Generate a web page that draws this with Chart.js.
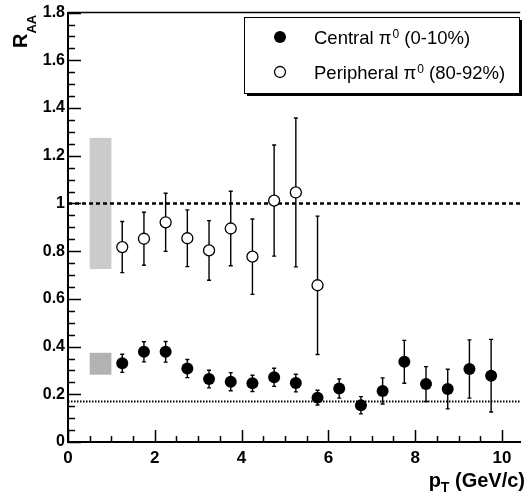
<!DOCTYPE html>
<html>
<head>
<meta charset="utf-8">
<script src="https://cdn.jsdelivr.net/npm/chart.js@4/dist/chart.umd.min.js"></script>
<style>
  html, body { margin: 0; padding: 0; background: #fff; }
  #wrap { position: relative; width: 527px; height: 498px; }
</style>
</head>
<body>
<div id="wrap"><canvas id="raa"></canvas></div>
<script>
// ─── DATA ─────────────────────────────────────────────────────
const ptCentral     = [1.25, 1.75, 2.25, 2.75, 3.25, 3.75, 4.25, 4.75, 5.25, 5.75, 6.25, 6.75, 7.25, 7.75, 8.25, 8.75, 9.25, 9.75];
const raaCentral    = [0.330, 0.378, 0.378, 0.308, 0.264, 0.253, 0.246, 0.271, 0.247, 0.186, 0.224, 0.154, 0.214, 0.336, 0.243, 0.222, 0.306, 0.278];
const errCentral    = [0.038, 0.042, 0.043, 0.038, 0.037, 0.038, 0.034, 0.038, 0.037, 0.031, 0.040, 0.036, 0.055, 0.090, 0.073, 0.083, 0.122, 0.152];

const ptPeriph      = [1.25, 1.75, 2.25, 2.75, 3.25, 3.75, 4.25, 4.75, 5.25, 5.75];
const raaPeriph     = [0.817, 0.852, 0.921, 0.854, 0.803, 0.895, 0.777, 1.012, 1.046, 0.657];
const errPeriph     = [0.107, 0.111, 0.122, 0.119, 0.125, 0.156, 0.158, 0.233, 0.312, 0.290];

// normalization uncertainty boxes: [centre, half height]
const normPeriph    = [1.0, 0.275];
const normCentral   = [0.328, 0.046];
const normBoxX      = [0.5, 1.0];

const unityLevel    = 1.0;
const ncollLevel    = 0.17;

const xTicks        = [0, 2, 4, 6, 8, 10];
const yTicks        = [0, 0.2, 0.4, 0.6, 0.8, 1, 1.2, 1.4, 1.6, 1.8];

const legendLabels  = ['Central \u03c0', 'Peripheral \u03c0'];
const legendTails   = [' (0-10%)', ' (80-92%)'];

// ─── PLUGINS ─────────────────────────────────────────────────
const FONT = '"Liberation Sans", Arial, Helvetica, sans-serif';

function drawErrors(chart, xs, ys, es) {
    const { ctx, scales: { x, y } } = chart;
    ctx.save();
    ctx.strokeStyle = '#000';
    ctx.lineWidth = 1.4;
    xs.forEach((v, i) => {
        const px = x.getPixelForValue(v);
        const top = y.getPixelForValue(ys[i] + es[i]);
        const bot = y.getPixelForValue(ys[i] - es[i]);
        ctx.beginPath();
        ctx.moveTo(px, top); ctx.lineTo(px, bot);
        ctx.moveTo(px - 2, top); ctx.lineTo(px + 2, top);
        ctx.moveTo(px - 2, bot); ctx.lineTo(px + 2, bot);
        ctx.stroke();
    });
    ctx.restore();
}

function drawBox(chart, nb, color) {
    const { ctx, scales: { x, y } } = chart;
    const x0 = x.getPixelForValue(normBoxX[0]), x1 = x.getPixelForValue(normBoxX[1]);
    const y0 = y.getPixelForValue(nb[0] + nb[1]), y1 = y.getPixelForValue(nb[0] - nb[1]);
    ctx.fillStyle = color;
    ctx.fillRect(x0, y0, x1 - x0, y1 - y0);
}

const decorPlugin = {
    id: 'decor',
    beforeDatasetsDraw(chart) {
        drawBox(chart, normPeriph, '#cbcbcb');
        drawBox(chart, normCentral, '#b2b2b2');
        drawErrors(chart, ptPeriph, raaPeriph, errPeriph);
        drawErrors(chart, ptCentral, raaCentral, errCentral);
    },
    afterDraw(chart) {
        const { ctx, chartArea: a, scales: { x, y } } = chart;
        ctx.save();
        ctx.strokeStyle = '#000';

        // frame top
        ctx.lineWidth = 1.5;
        ctx.beginPath();
        ctx.moveTo(a.left, a.top); ctx.lineTo(a.right, a.top);
        ctx.stroke();

        // inward ticks
        ctx.lineWidth = 1.5;
        ctx.beginPath();
        for (let k = 0; k <= 36; k++) {
            const v = k * 0.05;
            const py = Math.round(y.getPixelForValue(v)) + 0.5;
            const len = k % 4 === 0 ? 13 : 7;
            ctx.moveTo(a.left, py); ctx.lineTo(a.left + len, py);
        }
        for (let k = 0; k * 0.5 <= x.max; k++) {
            const px = Math.round(x.getPixelForValue(k * 0.5)) + 0.5;
            const len = k % 4 === 0 ? 12 : 6;
            ctx.moveTo(px, a.bottom); ctx.lineTo(px, a.bottom - len);
        }
        ctx.stroke();

        // axis titles
        ctx.fillStyle = '#000';
        ctx.textBaseline = 'alphabetic';
        ctx.textAlign = 'left';
        ctx.font = 'bold 20px ' + FONT;
        const tail = ' (GeV/c)';
        const wTail = ctx.measureText(tail).width;
        const wP = ctx.measureText('p').width;
        ctx.font = 'bold 14px ' + FONT;
        const wT = ctx.measureText('T').width;
        let xr = 525 - wTail;
        ctx.font = 'bold 20px ' + FONT;
        ctx.fillText(tail, xr, 487);
        ctx.font = 'bold 14px ' + FONT;
        ctx.fillText('T', xr - wT, 492);
        ctx.font = 'bold 20px ' + FONT;
        ctx.fillText('p', xr - wT - wP, 487);

        ctx.save();
        ctx.translate(27, 48);
        ctx.rotate(-Math.PI / 2);
        ctx.font = 'bold 20px ' + FONT;
        ctx.fillText('R', 0, 0);
        const wR = ctx.measureText('R').width;
        ctx.font = 'bold 13px ' + FONT;
        ctx.fillText('AA', wR, 9);
        ctx.restore();

        // legend
        const lx = 244, ly = 17, lw = 275, lh = 76;
        ctx.fillStyle = '#000';
        ctx.fillRect(lx + 3, ly + 3, lw, lh);
        ctx.fillStyle = '#fff';
        ctx.fillRect(lx, ly, lw, lh);
        ctx.lineWidth = 1;
        ctx.strokeRect(lx + 0.5, ly + 0.5, lw, lh);

        const rows = [37, 72];
        rows.forEach((ry, i) => {
            ctx.beginPath();
            ctx.arc(280, ry, i === 0 ? 6 : 5.5, 0, Math.PI * 2);
            if (i === 0) { ctx.fillStyle = '#000'; ctx.fill(); }
            else { ctx.fillStyle = '#fff'; ctx.fill(); ctx.lineWidth = 1.3; ctx.stroke(); }

            ctx.fillStyle = '#000';
            ctx.font = '18.5px ' + FONT;
            let tx = 314;
            ctx.fillText(legendLabels[i], tx, ry + 7);
            tx += ctx.measureText(legendLabels[i]).width + 1;
            ctx.font = '12px ' + FONT;
            ctx.fillText('0', tx, ry + 1);
            tx += ctx.measureText('0').width;
            ctx.font = '18.5px ' + FONT;
            ctx.fillText(legendTails[i], tx, ry + 7);
        });
        ctx.restore();
    }
};

// ─── CHART ───────────────────────────────────────────────────
const hline = (lvl) => [{ x: 0, y: lvl }, { x: 10.42, y: lvl }];

new Chart(document.getElementById('raa'), {
    type: 'scatter',
    data: {
        datasets: [
            {
                label: 'Central',
                data: ptCentral.map((v, i) => ({ x: v, y: raaCentral[i] })),
                pointRadius: 6, pointHoverRadius: 6,
                pointBackgroundColor: '#000', pointBorderColor: '#000', pointBorderWidth: 0
            },
            {
                label: 'Peripheral',
                data: ptPeriph.map((v, i) => ({ x: v, y: raaPeriph[i] })),
                pointRadius: 5.5, pointHoverRadius: 5.5,
                pointBackgroundColor: '#fff', pointBorderColor: '#000', pointBorderWidth: 1.3
            },
            {
                type: 'line', label: 'unity', data: hline(unityLevel),
                borderColor: '#000', borderWidth: 2.5, borderDash: [4, 3], pointRadius: 0
            },
            {
                type: 'line', label: 'ncoll', data: hline(ncollLevel),
                borderColor: '#000', borderWidth: 2, borderDash: [1.5, 1.5], pointRadius: 0
            }
        ]
    },
    options: {
        responsive: true,
        maintainAspectRatio: false,
        animation: false,
        layout: { padding: { top: 10, right: 1, left: 0, bottom: 0 } },
        plugins: { legend: { display: false }, tooltip: { enabled: false } },
        scales: {
            x: {
                type: 'linear', min: 0, max: 10.42,
                afterBuildTicks: s => { s.ticks = xTicks.map(v => ({ value: v })); },
                afterFit: s => { s.height = 56; },
                grid: { display: false, drawTicks: false },
                border: { display: true, color: '#000', width: 2 },
                ticks: { color: '#000', padding: 6, maxRotation: 0, font: { family: FONT, size: 17, weight: 'bold' } }
            },
            y: {
                min: 0, max: 1.8,
                afterBuildTicks: s => { s.ticks = yTicks.map(v => ({ value: v })); },
                afterFit: s => { s.width = 68; },
                grid: { display: false, drawTicks: false },
                border: { display: true, color: '#000', width: 2 },
                ticks: {
                    color: '#000', padding: 3,
                    font: { family: FONT, size: 16, weight: 'bold' },
                    callback: v => (v === 0 || v === 1) ? String(v) : v.toFixed(1)
                }
            }
        }
    },
    plugins: [decorPlugin]
});
</script>
</body>
</html>
